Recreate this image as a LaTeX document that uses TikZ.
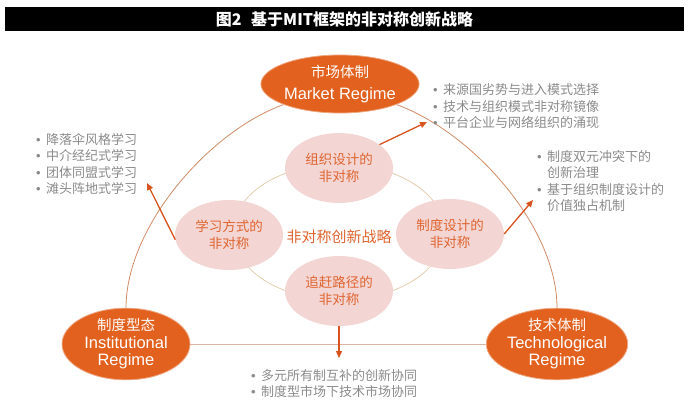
\documentclass[tikz,border=0pt]{standalone}
\usepackage{fontspec}
\setmainfont{Liberation Sans}
\newfontfamily\cjk{Noto Sans CJK SC}
\usetikzlibrary{arrows.meta, shapes.geometric, backgrounds}

\definecolor{mitorange}{HTML}{E2611F}
\definecolor{pinkfill}{HTML}{F3D6D4}
\definecolor{pinktext}{HTML}{DF6430}
\definecolor{arcline}{HTML}{D08A66}
\definecolor{baseline}{HTML}{DDB4A4}
\definecolor{ringline}{HTML}{E3CCAE}
\definecolor{listgray}{HTML}{8A8A8A}
\definecolor{arrowred}{HTML}{D9531E}
\newcommand{\bul}{\makebox[10pt][l]{{\rmfamily •}}}
\newcommand{\ind}{\hspace*{10pt}}

\begin{document}
\begin{tikzpicture}[x=1pt, y=1pt,
		regime/.style={ellipse, fill=mitorange, draw=mitorange!55!white, line width=0.8pt, text=white, inner sep=0pt, minimum width=128pt, minimum height=61pt, align=center, font=\fontsize{16.5}{17.5}\selectfont},
		asym/.style={ellipse, fill=pinkfill, text=pinktext, inner sep=0pt, minimum width=108pt, minimum height=70pt, align=center, font=\cjk\fontsize{13.5}{16.5}\selectfont},
		blist/.style={anchor=west, align=left, inner sep=0pt, text=listgray, font=\cjk\fontsize{13}{16.5}\selectfont},
		regimeline/.style={draw=arcline, line width=0.8pt},
		ring/.style={draw=ringline, line width=0.8pt},
		arrow/.style={-{Triangle[length=7pt, width=6pt]}, draw=arrowred, fill=arrowred, line width=1.3pt}
		]
		\useasboundingbox (0,0) rectangle (690,408);
		\node[fill=black, text=white, minimum width=679pt, minimum height=24pt, inner sep=0pt, font=\cjk\bfseries\fontsize{16}{16}\selectfont] (title) at (344.5,389) {图2\hspace{0.6em}基于MIT框架的非对称创新战略};

		\node[regime, minimum width=122pt, minimum height=58pt, font=\fontsize{16.5}{22}\selectfont] (market) at (340,324) {{\cjk\fontsize{14.5}{14.5}\selectfont 市场体制}\\Market Regime};
		\node[regime] (inst) at (126,64) {{\cjk\fontsize{14.5}{14.5}\selectfont 制度型态}\\Institutional\\Regime};
		\node[regime] (tech) at (557,64) {{\cjk\fontsize{14.5}{14.5}\selectfont 技术体制}\\Technological\\Regime};

		\node[text=pinktext, font=\cjk\fontsize{15}{15}\selectfont] (strat) at (339,171) {非对称创新战略};
		\node[asym] (orgD) at (339,240) {组织设计的\\非对称};
		\node[asym] (orgL) at (229,173) {学习方式的\\非对称};
		\node[asym] (orgR) at (450,174) {制度设计的\\非对称};
		\node[asym] (orgU) at (339,117) {追赶路径的\\非对称};

		\node[blist] (mktlist) at (433,301.5) {\bul 来源国劣势与进入模式选择\\\bul 技术与组织模式非对称镜像\\\bul 平台企业与网络组织的涌现};
		\node[blist] (lrnlist) at (36,244) {\bul 降落伞风格学习\\\bul 中介经纪式学习\\\bul 团体同盟式学习\\\bul 滩头阵地式学习};
		\node[blist] (instlist) at (537,227) {\bul 制度双元冲突下的\\\ind 创新治理\\\bul 基于组织制度设计的\\\ind 价值独占机制};
		\node[blist] (pathlist) at (251,24.5) {\bul 多元所有制互补的创新协同\\\bul 制度型市场下技术市场协同};

		\coordinate (tipM) at (427,286);
		\coordinate (tipL) at (147,225);
		\coordinate (tipR) at (533,208);
		\coordinate (tipU) at (339,50);

		\begin{scope}[on background layer]
			\draw[regimeline] (market) to[out=200, in=90, looseness=0.8] (inst);
			\draw[regimeline] (market) to[out=-20, in=90, looseness=0.8] (tech);
			\draw[regimeline, draw=baseline] (inst) -- (tech);
			\draw[ring] ([yshift=5pt]strat.center) ellipse [x radius=106pt, y radius=68pt];
		\end{scope}

		\draw[arrow] (orgD.30) -- (tipM);
		\draw[arrow] (orgL.185) -- (tipL);
		\draw[arrow] (orgR.east) -- (tipR);
		\draw[arrow] (orgU.south) -- (tipU);
	\end{tikzpicture}
\end{document}
